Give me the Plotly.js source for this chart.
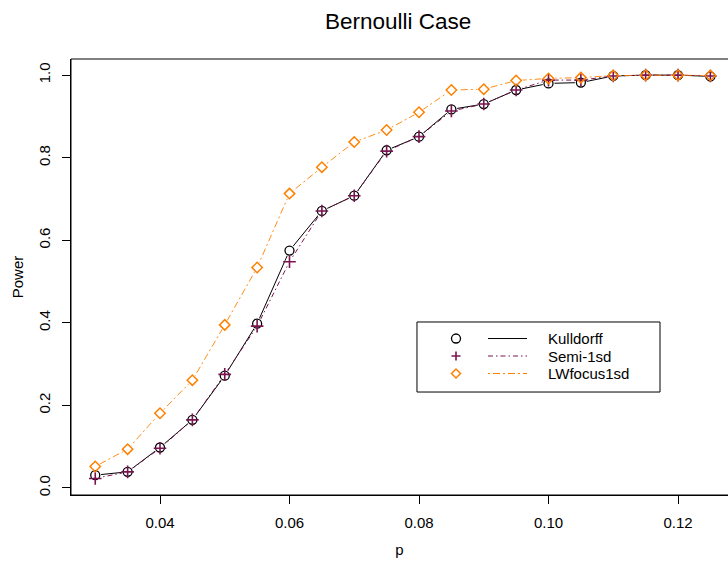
<!DOCTYPE html>
<html>
<head>
<meta charset="utf-8">
<script src="https://cdn.plot.ly/plotly-3.0.1.min.js"></script>
<style>
  html, body { margin: 0; padding: 0; background: #fff; }
  #chart { width: 728px; height: 564px; }
</style>
</head>
<body>
<div id="chart"></div>
<script>
// Cluster proportion p
const pValues = [0.030, 0.035, 0.040, 0.045, 0.050, 0.055, 0.060, 0.065, 0.070, 0.075,
                 0.080, 0.085, 0.090, 0.095, 0.100, 0.105, 0.110, 0.115, 0.120, 0.125];

// Estimated power of each scan statistic
const kulldorff = [0.031, 0.039, 0.098, 0.165, 0.272, 0.398, 0.575, 0.671, 0.708, 0.818,
                   0.851, 0.917, 0.930, 0.964, 0.980, 0.982, 0.998, 1.000, 1.000, 0.997];
const semi1sd   = [0.023, 0.039, 0.096, 0.165, 0.275, 0.392, 0.548, 0.671, 0.708, 0.816,
                   0.851, 0.913, 0.930, 0.964, 0.988, 0.988, 0.998, 1.000, 1.000, 0.998];
const lwFocus   = [0.052, 0.094, 0.181, 0.261, 0.395, 0.534, 0.713, 0.777, 0.838, 0.867,
                   0.910, 0.964, 0.966, 0.987, 0.992, 0.994, 0.999, 1.000, 1.000, 0.999];

const seriesNames = ['Kulldorff', 'Semi-1sd', 'LWfocus1sd'];
const xTicks = [0.04, 0.06, 0.08, 0.10, 0.12];
const yTicks = [0.0, 0.2, 0.4, 0.6, 0.8, 1.0];

const BLACK = '#000000';
const PLUM = '#7a1450';
const ORANGE = '#ff8000';
const SEMI_DASH = '5px,3px,1.5px,3px';
const LW_DASH = '2px,3px,7px,3px';
const FONT = 'Liberation Sans, Arial, Helvetica, sans-serif';

function lineTrace(y, color, dash, width) {
  return { x: pValues, y: y, type: 'scatter', mode: 'lines',
           line: { color: color, width: width, dash: dash },
           hoverinfo: 'skip', showlegend: false, cliponaxis: false };
}
// white discs that open a small gap in the lines around each point
function knockout(y, symbol, size) {
  return { x: pValues, y: y, type: 'scatter', mode: 'markers',
           marker: { symbol: symbol, size: size, color: '#ffffff', line: { width: 0 } },
           hoverinfo: 'skip', showlegend: false, cliponaxis: false };
}
function pointTrace(y, symbol, size, color, lw) {
  return { x: pValues, y: y, type: 'scatter', mode: 'markers',
           marker: { symbol: symbol, size: size, color: color, line: { color: color, width: lw } },
           hoverinfo: 'skip', showlegend: false, cliponaxis: false };
}

const data = [
  lineTrace(kulldorff, BLACK, 'solid', 1),
  lineTrace(semi1sd, PLUM, SEMI_DASH, 1),
  lineTrace(lwFocus, ORANGE, LW_DASH, 0.9),
  knockout(lwFocus, 'diamond', 11),
  knockout(semi1sd, 'circle', 8),
  knockout(kulldorff, 'circle', 12),
  pointTrace(kulldorff, 'circle-open', 9, BLACK, 1.3),
  pointTrace(semi1sd, 'cross-thin-open', 9, PLUM, 1.6),
  pointTrace(lwFocus, 'diamond-open', 8, ORANGE, 1.5)
];

// hand-drawn legend box in the style of base graphics
const legBox = { x0: 0.5266, x1: 0.8965, y0: 0.2362, y1: 0.3968 };
const legRows = [0.3589, 0.3188, 0.2787];
const legSymX = 0.586, legLine0 = 0.6347, legLine1 = 0.6941, legTextX = 0.7225;

const shapes = [
  // plot frame (runs off the right edge of the page)
  { type: 'rect', xref: 'paper', yref: 'paper', x0: 0, x1: 1.05, y0: 0, y1: 1,
    line: { color: BLACK, width: 1 }, layer: 'above' },
  { type: 'rect', xref: 'paper', yref: 'paper', x0: legBox.x0, x1: legBox.x1, y0: legBox.y0, y1: legBox.y1,
    line: { color: BLACK, width: 1 }, fillcolor: '#ffffff', layer: 'above' },
  { type: 'line', xref: 'paper', yref: 'paper', x0: legLine0, x1: legLine1, y0: legRows[0], y1: legRows[0],
    line: { color: BLACK, width: 1 }, layer: 'above' },
  { type: 'line', xref: 'paper', yref: 'paper', x0: legLine0, x1: legLine1, y0: legRows[1], y1: legRows[1],
    line: { color: PLUM, width: 1, dash: SEMI_DASH }, layer: 'above' },
  { type: 'line', xref: 'paper', yref: 'paper', x0: legLine0, x1: legLine1, y0: legRows[2], y1: legRows[2],
    line: { color: ORANGE, width: 1, dash: LW_DASH }, layer: 'above' },
  // legend symbols
  { type: 'circle', xref: 'paper', yref: 'paper', xsizemode: 'pixel', ysizemode: 'pixel',
    xanchor: legSymX, yanchor: legRows[0], x0: -4.5, x1: 4.5, y0: -4.5, y1: 4.5,
    line: { color: BLACK, width: 1.3 }, layer: 'above' },
  { type: 'path', xref: 'paper', yref: 'paper', xsizemode: 'pixel', ysizemode: 'pixel',
    xanchor: legSymX, yanchor: legRows[1], path: 'M-4.5,0H4.5M0,-4.5V4.5',
    line: { color: PLUM, width: 1.6 }, layer: 'above' },
  { type: 'path', xref: 'paper', yref: 'paper', xsizemode: 'pixel', ysizemode: 'pixel',
    xanchor: legSymX, yanchor: legRows[2], path: 'M-4.5,0L0,4.5L4.5,0L0,-4.5Z',
    line: { color: ORANGE, width: 1.5 }, layer: 'above' }
];

const annotations = seriesNames.map((name, i) => ({
  text: name, xref: 'paper', yref: 'paper', x: legTextX, y: legRows[i],
  xanchor: 'left', yanchor: 'middle', showarrow: false,
  font: { family: FONT, size: 15, color: BLACK }
}));

const layout = {
  width: 728, height: 564,
  margin: { l: 71, r: 0, t: 59, b: 69, pad: 0 },
  paper_bgcolor: '#ffffff', plot_bgcolor: '#ffffff',
  font: { family: FONT, size: 15, color: BLACK },
  title: { text: 'Bernoulli Case', font: { family: FONT, size: 22.5, color: BLACK },
           xref: 'container', x: 0.547, xanchor: 'center',
           yref: 'container', y: 0.963, yanchor: 'middle' },
  xaxis: {
    range: [0.026255, 0.12772], autorange: false,
    tickvals: xTicks, tickformat: '.2f',
    ticks: 'outside', ticklen: 8, tickwidth: 1, tickcolor: BLACK,
    ticklabelstandoff: 6,
    showgrid: false, zeroline: false, showline: true, linecolor: BLACK, linewidth: 1,
    title: { text: 'p', font: { family: FONT, size: 15 }, standoff: 14 },
    automargin: false, fixedrange: true
  },
  yaxis: {
    range: [-0.0171, 1.0391], autorange: false,
    tickvals: yTicks, tickformat: '.1f', tickangle: -90,
    ticks: 'outside', ticklen: 8, tickwidth: 1, tickcolor: BLACK,
    ticklabelstandoff: 6,
    showgrid: false, zeroline: false, showline: true, linecolor: BLACK, linewidth: 1,
    title: { text: 'Power', font: { family: FONT, size: 15 }, standoff: 8 },
    automargin: false, fixedrange: true
  },
  shapes: shapes,
  annotations: annotations,
  showlegend: false,
  hovermode: false
};

Plotly.newPlot('chart', data, layout, { displayModeBar: false, staticPlot: true });
</script>
</body>
</html>
